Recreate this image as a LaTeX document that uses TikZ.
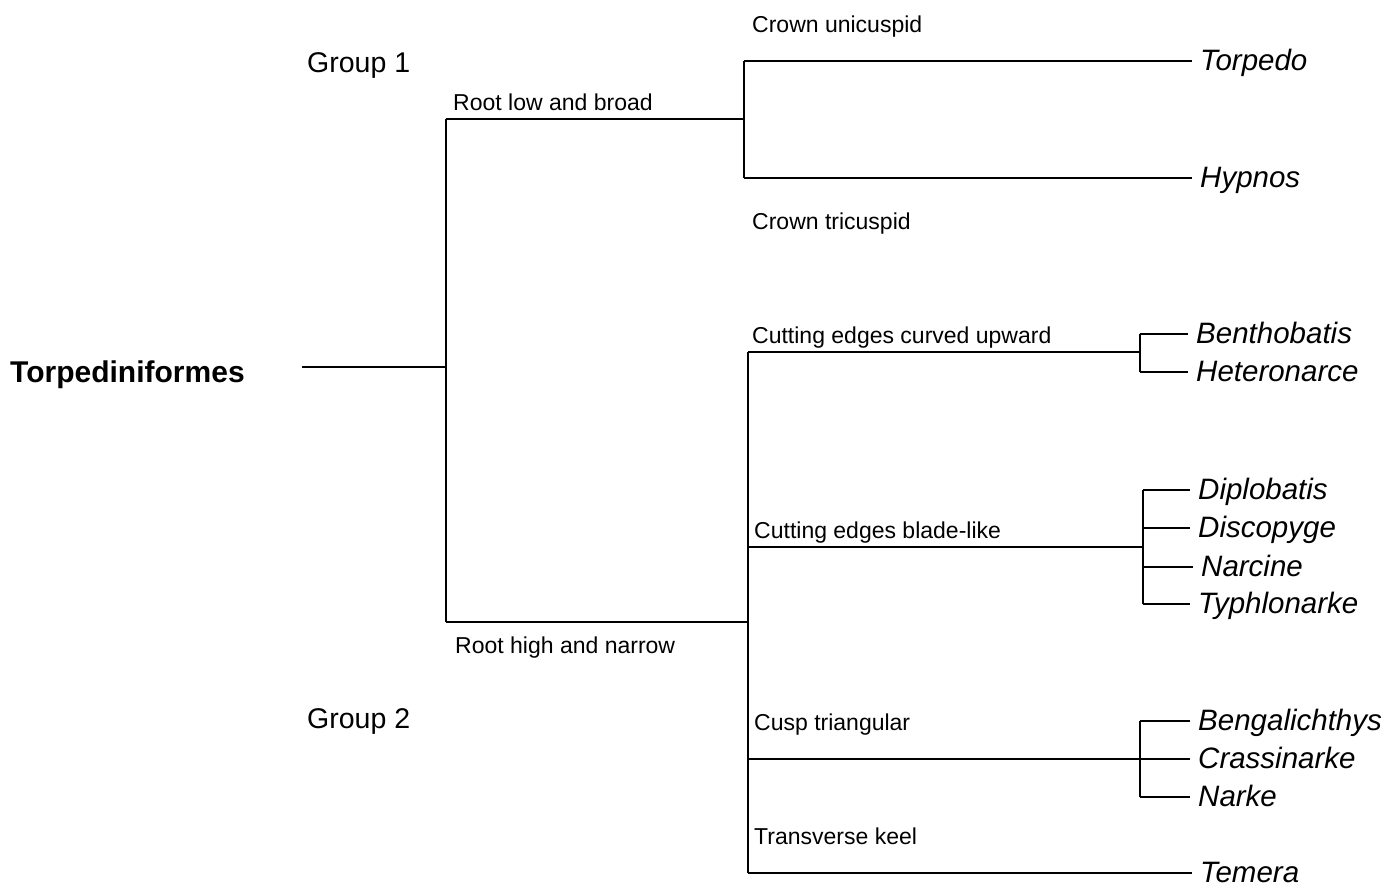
\documentclass[tikz,border=0pt]{standalone}
\usepackage{fontspec}
\setmainfont{Liberation Sans}
\begin{document}
\begin{tikzpicture}[x=1pt,y=-1pt,
  br/.style={draw=black, line width=2.5pt},
  lab/.style={anchor=base west, inner sep=0pt, font=\fontsize{23}{25}\selectfont},
  grp/.style={anchor=base west, inner sep=0pt, font=\fontsize{28.5}{30}\selectfont},
  taxon/.style={anchor=west, inner xsep=8pt, inner ysep=0pt, text height=25pt, text depth=6pt, font=\fontsize{29.5}{31}\selectfont\itshape}]
\useasboundingbox (0,0) rectangle (1388,886);
% root
\node[anchor=base west, inner sep=0pt, font=\fontsize{30}{32}\selectfont\bfseries] (torp) at (10,382) {Torpediniformes};
\coordinate (r0) at (302,367);
\coordinate (r1) at (446,367);
\coordinate (a) at (446,119);
\coordinate (b) at (446,622);
\draw[br] (r0) -- (r1);
\draw[br] (a) -- (b);
\node[grp] (grp1) at (307,72) {Group 1};
\node[grp] (grp2) at (307,728) {Group 2};
% group 1
\coordinate (g1) at (744,119);
\coordinate (g1t) at (744,61);
\coordinate (g1b) at (744,178);
\draw[br] (a) -- (g1);
\draw[br] (g1t) -- (g1b);
\node[lab] (l1) at (453,110) {Root low and broad};
\node[lab] (l2) at (752,32) {Crown unicuspid};
\node[lab] (l3) at (752,229) {Crown tricuspid};
\node[taxon] (torpedo) at (1192,61) {Torpedo};
\node[taxon] (hypnos) at (1192,178) {Hypnos};
\draw[br] (g1t) -- (torpedo.west);
\draw[br] (g1b) -- (hypnos.west);
% group 2
\coordinate (g2) at (748,622);
\coordinate (g2t) at (748,352);
\coordinate (g2c) at (748,547);
\coordinate (g2d) at (748,759);
\coordinate (g2b) at (748,873);
\draw[br] (b) -- (g2);
\draw[br] (g2t) -- (g2b);
\node[lab] (l4) at (455,653) {Root high and narrow};
\node[lab] (l5) at (752,343) {Cutting edges curved upward};
\node[lab] (l6) at (754,538) {Cutting edges blade-like};
\node[lab] (l7) at (754,730) {Cusp triangular};
\node[lab] (l8) at (754,844) {Transverse keel};
% clade 1
\coordinate (c1) at (1140,352);
\coordinate (c1t) at (1140,334);
\coordinate (c1b) at (1140,372);
\draw[br] (g2t) -- (c1);
\draw[br] (c1t) -- (c1b);
\node[taxon] (benth) at (1188,334) {Benthobatis};
\node[taxon] (heter) at (1188,372) {Heteronarce};
\draw[br] (c1t) -- (benth.west);
\draw[br] (c1b) -- (heter.west);
% clade 2
\coordinate (c2) at (1143,547);
\coordinate (c2a) at (1143,490);
\coordinate (c2b) at (1143,528);
\coordinate (c2c) at (1143,567);
\coordinate (c2d) at (1143,604);
\draw[br] (g2c) -- (c2);
\draw[br] (c2a) -- (c2d);
\node[taxon] (diplo) at (1190,490) {Diplobatis};
\node[taxon] (disco) at (1190,528) {Discopyge};
\node[taxon] (narci) at (1193,567) {Narcine};
\node[taxon] (typhl) at (1190,604) {Typhlonarke};
\draw[br] (c2a) -- (diplo.west);
\draw[br] (c2b) -- (disco.west);
\draw[br] (c2c) -- (narci.west);
\draw[br] (c2d) -- (typhl.west);
% clade 3
\coordinate (c3) at (1140,759);
\coordinate (c3t) at (1140,721);
\coordinate (c3b) at (1140,797);
\draw[br] (c3t) -- (c3b);
\node[taxon] (benga) at (1190,721) {Bengalichthys};
\node[taxon] (crass) at (1190,759) {Crassinarke};
\node[taxon] (narke) at (1190,797) {Narke};
\draw[br] (g2d) -- (crass.west);
\draw[br] (c3t) -- (benga.west);
\draw[br] (c3b) -- (narke.west);
% temera
\node[taxon] (temera) at (1192,873) {Temera};
\draw[br] (g2b) -- (temera.west);
\end{tikzpicture}
\end{document}
